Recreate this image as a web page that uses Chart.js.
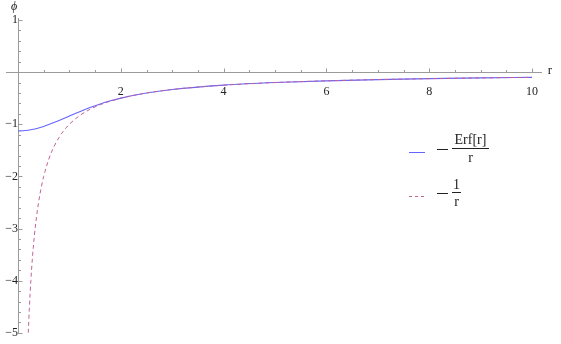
<!DOCTYPE html>
<html>
<head>
<meta charset="utf-8">
<script src="https://cdn.jsdelivr.net/npm/chart.js@4.4.0/dist/chart.umd.min.js"></script>
<style>
  body { margin: 0; background: #fff; }
  canvas { display: block; }
</style>
</head>
<body>
<canvas id="phiChart" width="561" height="344"></canvas>
<script>
// values
let rErf   = [0, 0.1, 0.2, 0.3, 0.4, 0.5, 0.6, 0.7, 0.8, 0.9, 1.0, 1.2, 1.4, 1.6, 1.8, 2.0, 2.5, 3, 4, 5, 6, 7, 8, 9, 10];
let phiErf = [-1.128, -1.125, -1.114, -1.095, -1.071, -1.041, -1.006, -0.968, -0.928, -0.886, -0.843, -0.759, -0.680, -0.610, -0.550, -0.498, -0.400, -0.333, -0.250, -0.200, -0.167, -0.143, -0.125, -0.111, -0.100];

let rInv   = [0.2, 0.22, 0.25, 0.28, 0.32, 0.36, 0.4, 0.45, 0.5, 0.6, 0.7, 0.8, 0.9, 1.0, 1.2, 1.4, 1.6, 1.8, 2.0, 2.5, 3, 4, 5, 6, 7, 8, 9, 10];
let phiInv = [-5.0, -4.545, -4.0, -3.571, -3.125, -2.778, -2.5, -2.222, -2.0, -1.667, -1.429, -1.25, -1.111, -1.0, -0.833, -0.714, -0.625, -0.556, -0.5, -0.4, -0.333, -0.25, -0.2, -0.167, -0.143, -0.125, -0.111, -0.1];

let xTicks = [2, 4, 6, 8, 10];
let yTicks = [-5, -4, -3, -2, -1, 1];

let blue = '#6464ff';
let pink = '#c06496';
let axisGray = '#9b9b9b';
let serif = "'Liberation Serif', 'DejaVu Serif', serif";

let pairs = (xs, ys) => xs.map((v, i) => ({x: v, y: ys[i]}));
let minus = v => v < 0 ? '\u2212' + Math.abs(v) : String(v);

let axesPlugin = {
  id: 'axes',
  beforeDatasetsDraw(chart) {
    let {ctx, scales: {x, y}} = chart;
    let x0 = Math.round(x.getPixelForValue(0)) + 0.5;
    let y0 = Math.round(y.getPixelForValue(0)) + 0.5;
    ctx.save();
    ctx.strokeStyle = axisGray;
    ctx.lineWidth = 1;
    ctx.beginPath();
    ctx.moveTo(6, y0); ctx.lineTo(542, y0);
    ctx.moveTo(x0, y.getPixelForValue(1) - 2); ctx.lineTo(x0, y.getPixelForValue(-5) + 1);
    // x ticks every 0.5, major at 2
    for (let k = 1; k <= 20; k++) {
      let v = k / 2;
      let px = Math.round(x.getPixelForValue(v)) + 0.5;
      let len = (k % 4 === 0) ? 4 : 2.5;
      ctx.moveTo(px, y0); ctx.lineTo(px, y0 - len);
    }
    // y ticks every 0.2, major at integers
    for (let k = -25; k <= 5; k++) {
      if (k === 0) continue;
      let v = k / 5;
      let py = Math.round(y.getPixelForValue(v)) + 0.5;
      let len = (k % 5 === 0) ? 4 : 2.5;
      ctx.moveTo(x0, py); ctx.lineTo(x0 + len, py);
    }
    ctx.stroke();
    ctx.restore();
  },
  afterDraw(chart) {
    let {ctx} = chart;
    ctx.save();
    ctx.fillStyle = '#222';
    ctx.textBaseline = 'middle';
    ctx.textAlign = 'center';
    ctx.font = 'italic 12px ' + serif;
    ctx.fillText('\u03d5', 14, 7);
    ctx.font = '13px ' + serif;
    ctx.fillText('r', 550, 71);

    // legend
    ctx.lineWidth = 1;
    ctx.strokeStyle = blue;
    ctx.beginPath(); ctx.moveTo(409, 152.5); ctx.lineTo(425, 152.5); ctx.stroke();
    ctx.strokeStyle = pink;
    ctx.setLineDash([3, 3]);
    ctx.beginPath(); ctx.moveTo(409, 196.5); ctx.lineTo(425, 196.5); ctx.stroke();
    ctx.setLineDash([]);

    ctx.strokeStyle = '#222';
    ctx.beginPath();
    ctx.moveTo(437, 149.5); ctx.lineTo(448, 149.5);
    ctx.moveTo(452, 148.5); ctx.lineTo(489, 148.5);
    ctx.moveTo(437, 193.5); ctx.lineTo(448, 193.5);
    ctx.moveTo(452, 192.5); ctx.lineTo(461, 192.5);
    ctx.stroke();

    ctx.font = '14px ' + serif;
    ctx.fillText('Erf[r]', 470.5, 140);
    ctx.fillText('r', 470.5, 158);
    ctx.fillText('1', 456.5, 185);
    ctx.fillText('r', 456.5, 202);
    ctx.restore();
  }
};

new Chart(document.getElementById('phiChart').getContext('2d'), {
  type: 'line',
  data: {
    datasets: [
      {
        label: '-1/r',
        data: pairs(rInv, phiInv),
        borderColor: pink,
        borderWidth: 1,
        borderDash: [4, 3],
        pointRadius: 0,
        cubicInterpolationMode: 'monotone',
        order: 0
      },
      {
        label: '-Erf[r]/r',
        data: pairs(rErf, phiErf),
        borderColor: blue,
        borderWidth: 1.1,
        pointRadius: 0,
        cubicInterpolationMode: 'monotone',
        order: 1
      }
    ]
  },
  options: {
    responsive: false,
    animation: false,
    layout: { padding: { left: 18, right: 29, top: 20, bottom: 8 } },
    plugins: { legend: { display: false }, tooltip: { enabled: false } },
    scales: {
      x: {
        type: 'linear',
        position: { y: 0 },
        min: 0,
        max: 10,
        afterBuildTicks: s => { s.ticks = xTicks.map(v => ({value: v})); },
        grid: { display: false },
        border: { display: false },
        ticks: {
          padding: 5,
          maxRotation: 0,
          autoSkip: false,
          color: '#222',
          font: { family: serif, size: 12 },
          callback: v => minus(v)
        }
      },
      y: {
        type: 'linear',
        position: { x: 0 },
        min: -5,
        max: 1,
        afterBuildTicks: s => { s.ticks = yTicks.map(v => ({value: v})); },
        grid: { display: false },
        border: { display: false },
        ticks: {
          padding: 4,
          autoSkip: false,
          color: '#222',
          font: { family: serif, size: 12 },
          callback: v => minus(v)
        }
      }
    }
  },
  plugins: [axesPlugin]
});
</script>
</body>
</html>
